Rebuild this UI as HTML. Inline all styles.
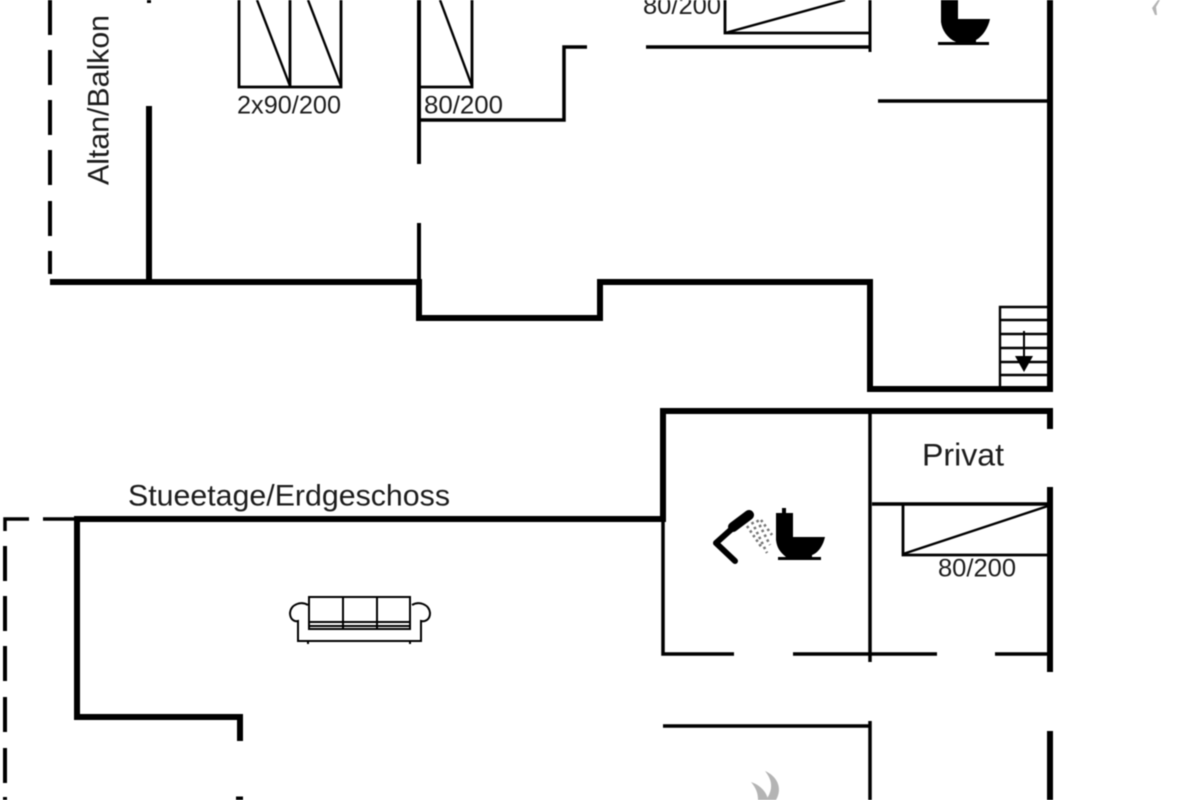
<!DOCTYPE html>
<html><head><meta charset="utf-8"><style>
html,body{margin:0;padding:0;background:#fff;width:1200px;height:800px;overflow:hidden}
svg{display:block;filter:blur(0.6px)}
text{font-family:"Liberation Sans",sans-serif;fill:#1c1c1c}
</style></head><body>
<svg width="1200" height="800" viewBox="0 0 1200 800" xmlns="http://www.w3.org/2000/svg">
<g fill="none" stroke="#000" stroke-linecap="butt" stroke-linejoin="miter">
<!-- top-left dashes -->
<path stroke-width="4" d="M50 0V35M50 50V85M50 100V135M50 150V185M50 201V236M50 251V274"/>
<!-- upper thick walls -->
<path stroke-width="6" d="M50 282H419V318H600V282H870V389H1050V0"/>
<path stroke-width="6" d="M149 106V282"/>
<path stroke-width="4" d="M149 0V3"/>
<!-- upper thin walls -->
<path stroke-width="4" d="M419 0V164M419 223V282"/>
<path stroke-width="3.5" d="M419 120H564V47H587"/>
<path stroke-width="3.5" d="M646 47H870"/>
<path stroke-width="3" d="M870 0V52"/>
<path stroke-width="3.5" d="M878 101H1050"/>
<!-- beds -->
<path stroke-width="2.8" d="M239 0V87H341V0M290 0V87"/>
<path stroke-width="2.4" d="M257 0L290 86M308 0L341 86"/>
<path stroke-width="2.8" d="M421 87H472V0"/>
<path stroke-width="2.4" d="M440 0L472 86"/>
<path stroke-width="2.8" d="M725 0V33H869"/>
<path stroke-width="2.4" d="M725 33L845 0"/>
<!-- stairs -->
<path stroke-width="2.4" d="M1000 388V307H1049M1000 320H1049M1000 334H1049M1000 348H1049M1000 362H1049M1000 375H1049"/>
<path stroke-width="2" d="M1024 331V362"/>
<!-- lower walls -->
<path stroke-width="6" d="M1050 429V411H663V519H77V717H240V741"/>
<path stroke-width="3.5" d="M663 519V654H734M793 654H937M995 654H1050"/>
<path stroke-width="3.5" d="M870 411V662"/>
<path stroke-width="3.5" d="M872 504H1049"/>
<path stroke-width="6" d="M1050 487V672M1050 731V800"/>
<path stroke-width="3.5" d="M663 726H870M870 721V800"/>
<!-- lower-left dashes -->
<path stroke-width="3.5" d="M5 531V519H29M43 519H76"/>
<path stroke-width="4" d="M5 546V581M5 596V631M5 646V681M5 697V732M5 748V783M5 797V800"/>
<path stroke-width="5" d="M236 799H243"/>
<!-- bed lower -->
<path stroke-width="2.8" d="M903 505V555H1049"/>
<path stroke-width="2.4" d="M903 554L1048 506"/>
<!-- sofa -->
<path stroke-width="2" d="M309 597H410V629H309ZM343 597V629M377 597V629M309 622H410M309 626H410"/>
<path stroke-width="2" d="M308 605C301 601 291 604 290 613C290 619 294 622 298 621V641H421V621C426 622 430 619 430 613C429 604 419 601 412 605"/>
<path stroke-width="2" d="M308 641V644M410 641V644"/>
<!-- shower -->
<path stroke-width="6" stroke-linecap="round" stroke-linejoin="round" d="M735 561L716 543L735 526"/>
<path stroke-width="10" stroke-linecap="round" d="M733 527L749 515"/>
<path stroke="#777" stroke-width="2.6" stroke-dasharray="2.5 3" d="M752 522L767 553M757 520L770 545M747 526L762 548M761 520L772 535"/>
</g>
<g fill="#000" stroke="none">
<!-- arrow -->
<path d="M1015 356H1033L1024 372Z"/>
<!-- toilet lower -->
<path d="M776 513H782V508H786V513H793V537H825C823 546 818 553 812 555V557H821V560H778V557H786C780 552 777 548 776 540Z"/>
<!-- toilet upper -->
<path d="M941 0H958V19H990C988 28 983 36 976 40V42H956C947 38 942 30 941 22ZM938 42H989V45H938Z"/>
</g>
<!-- flame fragments -->
<g fill="#b4b4b4" stroke="none">
<path d="M765 771C777 776 783 788 776 800H766C773 790 773 781 765 771Z"/>
<path d="M751 782C760 785 767 792 768 800H758C758 793 756 788 751 782Z"/>
<path d="M1152 8L1158 0H1160L1156 7L1157 15H1155Z"/>
</g>
<!-- labels -->
<text x="237" y="113.5" font-size="25" textLength="104" lengthAdjust="spacingAndGlyphs">2x90/200</text>
<text x="424" y="113.5" font-size="25" textLength="79" lengthAdjust="spacingAndGlyphs">80/200</text>
<text x="643" y="14" font-size="25" textLength="78" lengthAdjust="spacingAndGlyphs">80/200</text>
<text x="938" y="576.5" font-size="25" textLength="78" lengthAdjust="spacingAndGlyphs">80/200</text>
<text x="922" y="465.5" font-size="31.5" textLength="82" lengthAdjust="spacingAndGlyphs">Privat</text>
<text x="128" y="505.5" font-size="29.5" textLength="322" lengthAdjust="spacingAndGlyphs">Stueetage/Erdgeschoss</text>
<text transform="translate(108.5 185) rotate(-90)" font-size="29.5" textLength="170" lengthAdjust="spacingAndGlyphs">Altan/Balkon</text>
</svg>
</body></html>
